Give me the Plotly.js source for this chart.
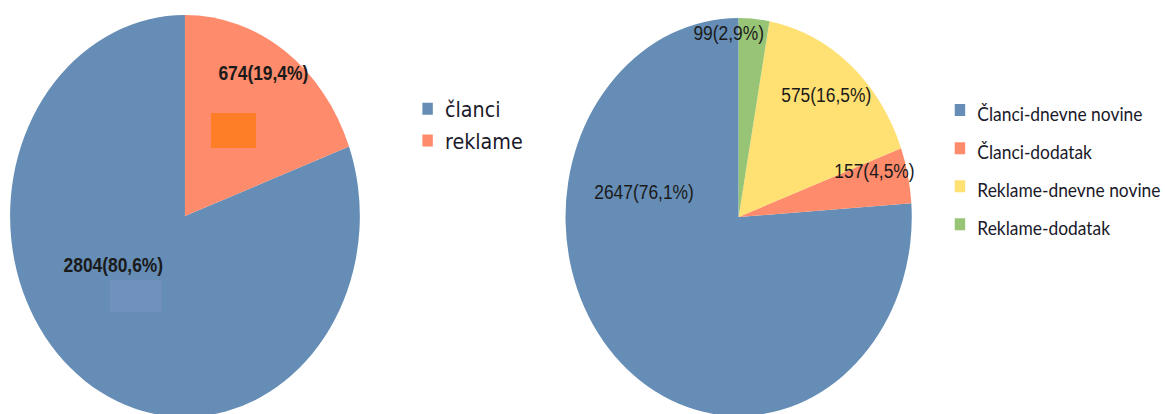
<!DOCTYPE html>
<html>
<head>
<meta charset="utf-8">
<script src="https://cdn.plot.ly/plotly-3.0.1.min.js"></script>
<style>
  html, body { margin: 0; padding: 0; overflow: hidden; background: #fff; width: 1165px; height: 414px; }
  #chart { width: 1339px; height: 430px; transform: scaleX(0.87); transform-origin: 0 0; }
</style>
</head>
<body>
<div id="chart"></div>
<script>
// ---- data ----
const leftLabels = ['članci', 'reklame'];
const leftValues = [2804, 674];
const leftPercents = [80.6, 19.4];

const rightLabels = ['Članci-dnevne novine', 'Članci-dodatak', 'Reklame-dnevne novine', 'Reklame-dodatak'];
const rightValues = [2647, 157, 575, 99];
const rightPercents = [76.1, 4.5, 16.5, 2.9];

const leftColors = ['#658db5', '#fe8b6b'];
const rightColors = ['#658db5', '#fe8b6b', '#ffe072', '#98c476'];

// label anchor points (unscaled px) – layout only
const leftLabelPos = [[130, 265], [302, 73]];
const rightLabelPos = [[740, 192], [1005, 171], [949, 95], [837, 33]];

function makeText(vals, pcts) {
  return vals.map((v, i) => v + '(' + pcts[i].toFixed(1).replace('.', ',') + '%)');
}
function sumOf(a) { return a.reduce((s, v) => s + v, 0); }

const W = 1339, H = 430;

// first slice ends at 12 o'clock going clockwise, others continue counterclockwise
function rot(vals) { return 360 * (sumOf(vals) - vals[0]) / sumOf(vals); }

const traces = [
  {
    type: 'pie',
    labels: leftLabels,
    values: leftValues,
    textinfo: 'none',
    sort: false,
    direction: 'counterclockwise',
    rotation: rot(leftValues),
    marker: { colors: leftColors, line: { width: 0 } },
    domain: { x: [11.6 / W, 413.6 / W], y: [1 - 417 / H, 1 - 15 / H] },
    legend: 'legend',
    hoverinfo: 'label+value+percent'
  },
  {
    type: 'pie',
    labels: rightLabels.map(l => '<span style="font-size:20px">' + l + '</span>'),
    values: rightValues,
    textinfo: 'none',
    sort: false,
    direction: 'counterclockwise',
    rotation: rot(rightValues),
    marker: { colors: rightColors, line: { width: 0 } },
    domain: { x: [650 / W, 1048 / W], y: [1 - 416 / H, 1 - 18 / H] },
    legend: 'legend2',
    hoverinfo: 'label+value+percent'
  }
];

const annotations = [];
makeText(leftValues, leftPercents).forEach((t, i) => {
  annotations.push({
    text: t, xref: 'paper', yref: 'paper',
    x: leftLabelPos[i][0] / W, y: 1 - leftLabelPos[i][1] / H,
    xanchor: 'center', yanchor: 'middle', showarrow: false,
    font: { family: 'Liberation Sans, Arial, sans-serif', size: 20, color: '#1a1a1a', weight: 'bold' }
  });
});
makeText(rightValues, rightPercents).forEach((t, i) => {
  annotations.push({
    text: t, xref: 'paper', yref: 'paper',
    x: rightLabelPos[i][0] / W, y: 1 - rightLabelPos[i][1] / H,
    xanchor: 'center', yanchor: 'middle', showarrow: false,
    font: { family: 'Liberation Sans, Arial, sans-serif', size: 20, color: '#1a1a1a' }
  });
});

const layout = {
  width: W,
  height: H,
  margin: { l: 0, r: 0, t: 0, b: 0, autoexpand: false },
  paper_bgcolor: '#ffffff',
  plot_bgcolor: '#ffffff',
  showlegend: true,
  legend: {
    xref: 'container', yref: 'container',
    x: 471.5 / W, xanchor: 'left',
    y: 1 - 88 / H, yanchor: 'top',
    font: { family: 'DejaVu Sans, sans-serif', size: 22, color: '#1a1a2a' },
    bgcolor: 'rgba(0,0,0,0)'
  },
  legend2: {
    xref: 'container', yref: 'container',
    x: 1083.4 / W, xanchor: 'left',
    y: 1 - 86 / H, yanchor: 'top',
    font: { family: 'Lato, Liberation Sans, sans-serif', size: 27, color: '#1a1a2a' },
    bgcolor: 'rgba(0,0,0,0)'
  },
  annotations: annotations,
  shapes: [
    { type: 'rect', xref: 'paper', yref: 'paper', x0: 242.5 / W, x1: 294.3 / W, y0: 1 - 148 / H, y1: 1 - 113 / H,
      fillcolor: '#fd7e26', line: { width: 0 }, layer: 'above' },
    { type: 'rect', xref: 'paper', yref: 'paper', x0: 126.4 / W, x1: 186.2 / W, y0: 1 - 312 / H, y1: 1 - 280 / H,
      fillcolor: '#7090bd', line: { width: 0 }, layer: 'above' }
  ]
};

Plotly.newPlot('chart', traces, layout, { displayModeBar: false, responsive: false });
</script>
</body>
</html>
